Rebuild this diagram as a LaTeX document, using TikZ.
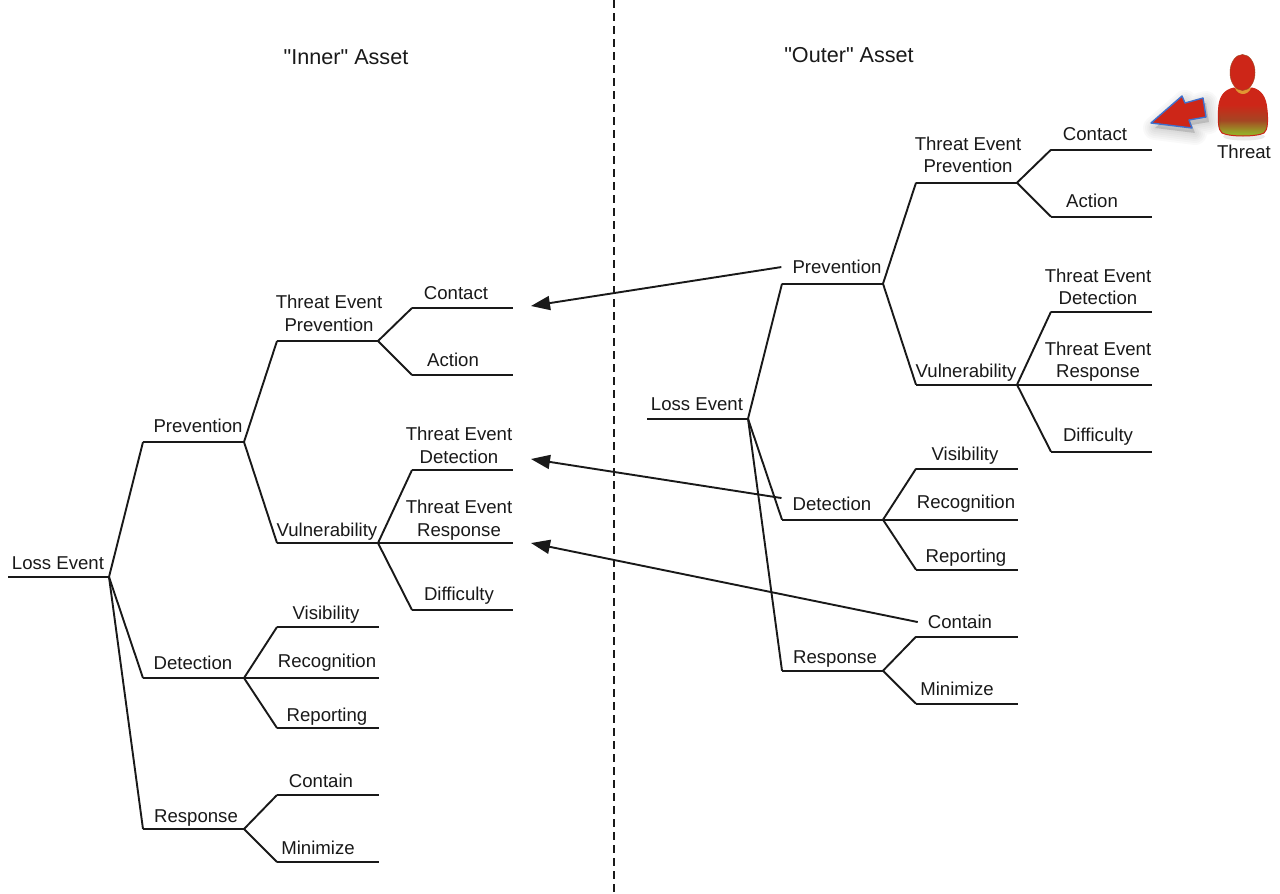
\documentclass[tikz,border=0pt]{standalone}
\usepackage{fontspec}
\setmainfont{Liberation Sans}
\newfontfamily\plainquotes{Liberation Sans}
\usetikzlibrary{arrows.meta}
\definecolor{inkc}{RGB}{25,25,25}
\definecolor{redc}{RGB}{205,38,24}
\definecolor{bluec}{RGB}{62,112,205}
\definecolor{olivec}{RGB}{150,170,40}
\definecolor{brownc}{RGB}{165,70,35}
\definecolor{collarc}{RGB}{225,150,50}
\pgfdeclareverticalshading{bodyshade}{100bp}{
  color(0bp)=(olivec); color(29bp)=(olivec); color(42bp)=(brownc); color(58bp)=(redc); color(100bp)=(redc)}
\tikzset{
  tline/.style={draw=inkc,line width=1.9pt,line join=round},
  lab/.style={anchor=base,inner sep=0pt,text=inkc,font=\fontsize{18.6}{22.5}\selectfont,align=center},
  ttl/.style={anchor=base,inner sep=0pt,text=inkc,font=\plainquotes\fontsize{21.6}{25}\selectfont},
  cross/.style={draw=inkc,line width=1.9pt,-{Triangle[length=19pt,width=14pt]}},
  divider/.style={draw=inkc,line width=1.8pt,dash pattern=on 8pt off 5pt},
}
\newcommand{\stem}[5]{%
  \coordinate (#1a) at (#2,#3);
  \coordinate (#1b) at (#4,#5);
  \draw[tline] (#1a) -- (#1b);
}
\newcommand{\assettree}{%
  \stem{loss}{8}{577}{109}{577}
  \stem{prev}{143}{442}{244}{442}
  \stem{det}{143}{678}{244}{678}
  \stem{resp}{143}{829}{244}{829}
  \stem{tep}{277}{341}{378}{341}
  \stem{vul}{277}{543}{378}{543}
  \stem{cont}{412}{308}{513}{308}
  \stem{act}{412}{375}{513}{375}
  \stem{ted}{412}{470}{513}{470}
  \stem{ter}{412}{543}{513}{543}
  \stem{dif}{412}{610}{513}{610}
  \stem{vis}{277}{627}{379}{627}
  \stem{rec}{277}{678}{379}{678}
  \stem{rep}{277}{728}{379}{728}
  \stem{con}{277}{795}{379}{795}
  \stem{min}{277}{862}{379}{862}
  \draw[tline] (lossb) -- (preva);
  \draw[tline] (lossb) -- (deta);
  \draw[tline] (lossb) -- (respa);
  \draw[tline] (prevb) -- (tepa);
  \draw[tline] (prevb) -- (vula);
  \draw[tline] (detb) -- (visa);
  \draw[tline] (detb) -- (reca);
  \draw[tline] (detb) -- (repa);
  \draw[tline] (respb) -- (cona);
  \draw[tline] (respb) -- (mina);
  \draw[tline] (tepb) -- (conta);
  \draw[tline] (tepb) -- (acta);
  \draw[tline] (vulb) -- (teda);
  \draw[tline] (vulb) -- (tera);
  \draw[tline] (vulb) -- (difa);
  \node[lab] (losst) at (58,569) {Loss Event};
  \node[lab] (prevt) at (198,432) {Prevention};
  \node[lab] (dett) at (193,669) {Detection};
  \node[lab] (respt) at (196,822) {Response};
  \node[lab] (tept) at (329,331) {Threat Event\\Prevention};
  \node[lab] (vult) at (327,536) {Vulnerability};
  \node[lab] (contt) at (456,299) {Contact};
  \node[lab] (actt) at (453,366) {Action};
  \node[lab] (tedt) at (459,463) {Threat Event\\Detection};
  \node[lab] (tert) at (459,536) {Threat Event\\Response};
  \node[lab] (dift) at (459,600) {Difficulty};
  \node[lab] (vist) at (326,619) {Visibility};
  \node[lab] (rect) at (327,667) {Recognition};
  \node[lab] (rept) at (327,721) {Reporting};
  \node[lab] (cont) at (321,787) {Contain};
  \node[lab] (mint) at (318,854) {Minimize};
}
\begin{document}
\begin{tikzpicture}[x=1pt,y=-1pt]
\useasboundingbox (0,0) rectangle (1280,894);
\fill[white] (0,0) rectangle (1280,894);
\coordinate (divtop) at (614,0);
\coordinate (divbot) at (614,894);
\draw[divider] (divtop) -- (divbot);
\node[ttl] (inner) at (346,64) {"Inner" Asset};
\node[ttl] (outer) at (849,62) {"Outer" Asset};
\begin{scope}[name prefix=L-]
\assettree
\end{scope}
\begin{scope}[shift={(639,-158.3)},name prefix=R-]
\assettree
\end{scope}
\coordinate (tipA) at (531,306);
\coordinate (tipB) at (531,459);
\coordinate (tipC) at (531,543);
\draw[cross] ([shift={(-11,0)}]R-prevt.west) -- (tipA);
\draw[cross] ([shift={(-11,-6)}]R-dett.west) -- (tipB);
\draw[cross] ([shift={(-10,0)}]R-cont.west) -- (tipC);
% threat figure
\fill[gray!35,opacity=.45] (1244,136.5) ellipse (21 and 4);
\path[shading=bodyshade,draw=redc,line width=1pt]
  (1234,88) .. controls (1224,90) and (1219,97) .. (1218.5,110)
  .. controls (1218,120) and (1218,130) .. (1222,133)
  .. controls (1230,137) and (1256,137) .. (1264,133)
  .. controls (1268,130) and (1268,120) .. (1267,110)
  .. controls (1266,97) and (1261,90) .. (1252,88) -- cycle;
\fill[collarc] (1235,88) .. controls (1238,96) and (1248,96) .. (1251,88) -- cycle;
\fill[redc,draw=brownc,line width=.5pt] (1242.5,72.5) ellipse (12.5 and 18);
\node[lab] (threat) at (1244,158) {Threat};
% big arrow with a soft shadow
\foreach \w in {24,20,16,12,8,4}{
  \draw[black,opacity=.022,line width=\w pt,line join=round,fill=black]
    (1155,128) -- (1185,102) -- (1188,108) -- (1206,103) -- (1209,122) -- (1192,125) -- (1195,133) -- cycle;
}
\draw[bluec,fill=redc,line width=1.4pt,line join=round]
  (1151,123) -- (1182,96) -- (1185,103) -- (1203,98) -- (1206,117) -- (1189,120) -- (1192,128) -- cycle;
\end{tikzpicture}
\end{document}
